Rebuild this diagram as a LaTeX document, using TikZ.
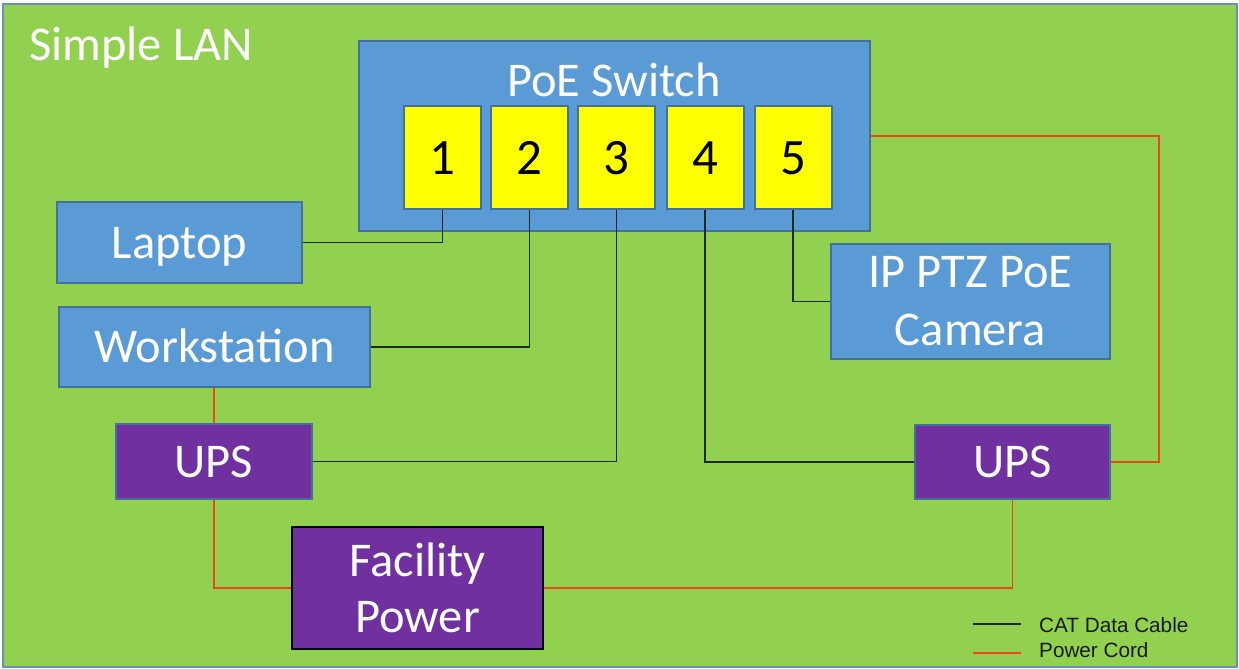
\documentclass[tikz,border=0pt]{standalone}
\usepackage{fontspec}
\setmainfont{Carlito}
\newfontfamily\legendfont{Liberation Sans}
\definecolor{bggreen}{HTML}{92D050}
\definecolor{outerline}{HTML}{6A8CC0}
\definecolor{boxblue}{HTML}{5B9BD5}
\definecolor{boxborder}{HTML}{41719C}
\definecolor{upspurple}{HTML}{7030A0}
\definecolor{portyellow}{HTML}{FFFF00}
\definecolor{powerred}{HTML}{EE4420}
\definecolor{datablack}{HTML}{1E2A1E}
\definecolor{legendtext}{HTML}{1A1A1A}
\tikzset{
  box/.style={draw=boxborder, line width=2pt, inner sep=0pt, text=white,
    font=\fontsize{48.5}{58}\selectfont, align=center},
  bluebox/.style={box, fill=boxblue},
  purplebox/.style={box, fill=upspurple},
  oneline/.style={text height=31pt, text depth=0pt},
  portbox/.style={draw=boxborder, line width=2pt, fill=portyellow, inner sep=0pt,
    minimum width=77, minimum height=103, text=black,
    font=\fontsize{51}{54}\selectfont, text height=33pt, text depth=0pt},
  datawire/.style={draw=datablack, line width=1.4pt},
  powerwire/.style={draw=powerred, line width=1.4pt},
  legendlabel/.style={anchor=base west, inner sep=0pt, text=legendtext,
    font=\legendfont\fontsize{20.7}{24}\selectfont}
}
\begin{document}
\begin{tikzpicture}[x=1pt,y=-1pt]
\useasboundingbox (0,0) rectangle (1239,669);
% background panel
\fill[white] (0,0) rectangle (1239,669);
\draw[fill=bggreen, draw=outerline, line width=1.5pt] (3,4) rectangle (1237,667);
\node[anchor=base west, inner sep=0pt, text=white, font=\fontsize{48.5}{52}\selectfont] (title) at (29,60) {Simple LAN};

% switch
\node[bluebox, minimum width=511, minimum height=190] (sw) at (614.5,136) {};
\node[anchor=base, inner sep=0pt, text=white, font=\fontsize{48.5}{52}\selectfont] (swlabel) at (614,96) {PoE Switch};
\node[portbox] (p1) at (442.5,157.5) {1};
\node[portbox] (p2) at (529.5,157.5) {2};
\node[portbox] (p3) at (616.5,157.5) {3};
\node[portbox] (p4) at (705,157.5) {4};
\node[portbox] (p5) at (793,157.5) {5};

% devices
\node[bluebox, oneline, minimum width=245, minimum height=81] (laptop) at (179.5,242.5) {Laptop};
\node[bluebox, oneline, minimum width=311, minimum height=80] (ws) at (214.5,347) {Workstation};
\node[bluebox, minimum width=279, minimum height=115] (cam) at (970.5,301.5) {IP PTZ PoE\\Camera};
\node[purplebox, oneline, minimum width=196, minimum height=75] (ups1) at (214,461.5) {UPS};
\node[purplebox, oneline, minimum width=195, minimum height=74] (ups2) at (1012.5,462) {UPS};
\node[purplebox, draw=black, minimum width=251, minimum height=122,
  font=\fontsize{48.5}{56}\selectfont] (fac) at (417.5,588) {Facility\\Power};

% data cables
\draw[datawire] (p1.south) |- (laptop.east);
\draw[datawire] (p2.south) |- (ws.east);
\draw[datawire] (p3.south) |- (ups1.east);
\draw[datawire] (p4.south) |- (ups2.west);
\draw[datawire] (p5.south) |- (cam.west);

% power cords
\draw[powerwire] (ups1.north) -- (ups1.north |- ws.south);
\draw[powerwire] (ups1.south) |- (fac.west);
\draw[powerwire] (ups2.south) |- (fac.east);
\coordinate (pcorner) at (1159,136);
\draw[powerwire] (ups2.east) -| (pcorner) -- (pcorner -| sw.east);

% legend
\coordinate (la1) at (973,624);
\coordinate (la2) at (1021,624);
\coordinate (lb1) at (973,653);
\coordinate (lb2) at (1021,653);
\draw[datawire, line width=1.2pt] (la1) -- (la2);
\draw[powerwire, line width=1.2pt] (lb1) -- (lb2);
\node[legendlabel] (leg1) at (1039,632) {CAT Data Cable};
\node[legendlabel] (leg2) at (1039,657) {Power Cord};
\end{tikzpicture}
\end{document}
